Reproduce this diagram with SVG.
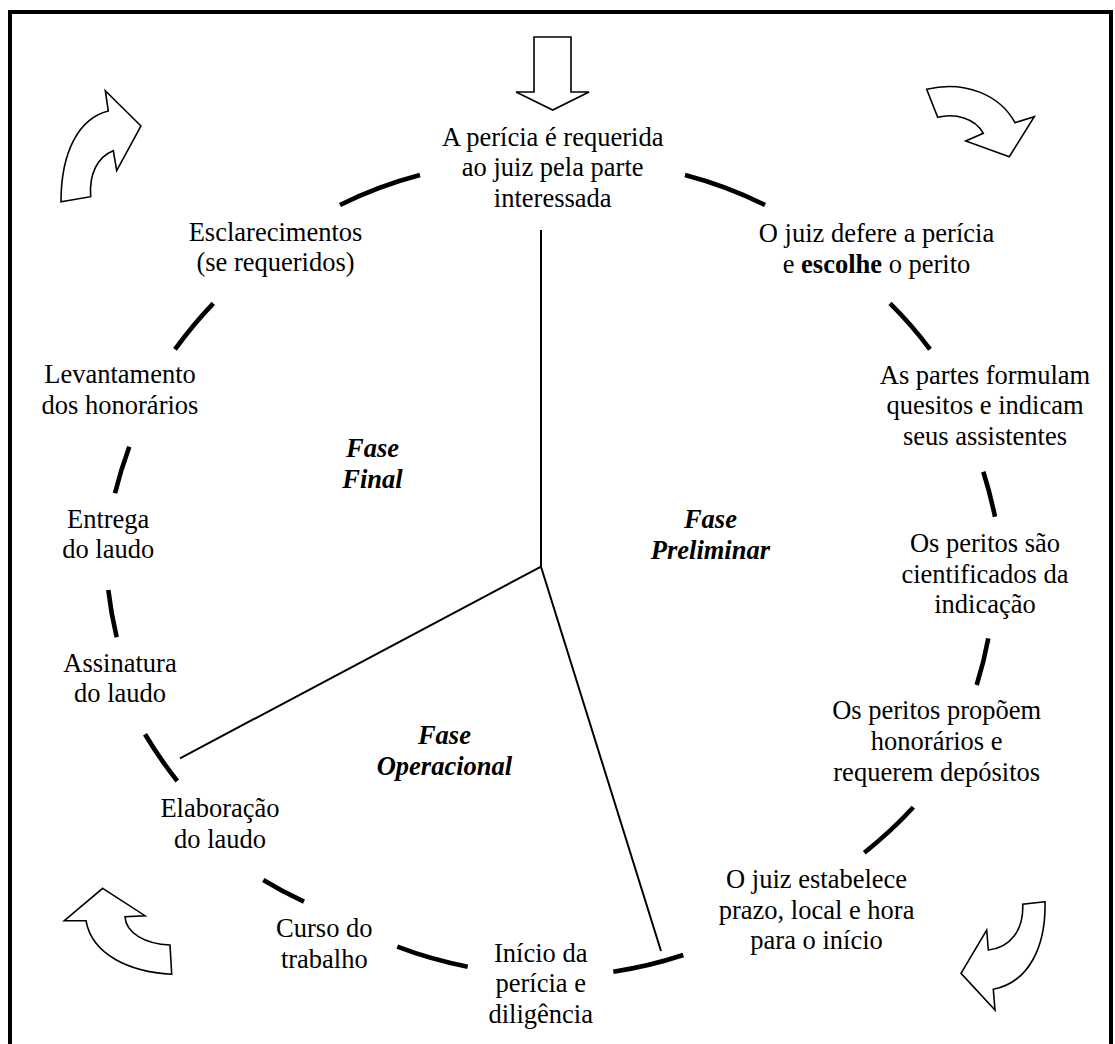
<svg xmlns="http://www.w3.org/2000/svg" width="1115" height="1044" viewBox="0 0 1115 1044">
<style>
  text { font-family: "Liberation Serif", "Times New Roman", "DejaVu Serif", serif; font-size: 26.5px; fill: #000; text-anchor: middle; }
  .phase { font-weight: bold; font-style: italic; }
  .arc { fill: none; stroke: #000; stroke-width: 4.6; }
  .spoke { fill: none; stroke: #000; stroke-width: 2; }
  .blk { fill: #fff; stroke: #000; stroke-width: 1.6; stroke-linejoin: miter; }
  .frame { fill: none; stroke: #000; stroke-width: 4; }
</style>
<rect width="1115" height="1044" fill="#fff"/>
<g id="frame">
  <path class="frame" d="M10,1044 V12 H1111 V1044"/>
</g>

<g id="connectors">
  <path class="arc" d="M340,205 Q378,186 420,175"/>
  <path class="arc" d="M685,175 Q727,186 765,205"/>
  <path class="arc" d="M890,303.3 Q912,325 930,349.3"/>
  <path class="arc" d="M983.3,471.7 Q990.3,493.8 995,516.7"/>
  <path class="arc" d="M988.3,638.3 Q983.9,662 976.7,685"/>
  <path class="arc" d="M913.3,807.3 Q891,831.6 864.3,852.7"/>
  <path class="arc" d="M683.3,955 Q649,966.3 613.3,971.7"/>
  <path class="arc" d="M467.7,966.7 Q431.6,959.8 397.3,946.7"/>
  <path class="arc" d="M304,901.7 Q282.9,891.9 263.3,880"/>
  <path class="arc" d="M177.3,781 Q159.5,758.5 145,734.3"/>
  <path class="arc" d="M116.7,637.3 Q111.1,613.8 108.3,590"/>
  <path class="arc" d="M115,493.3 Q120.8,469.7 129.3,446.7"/>
  <path class="arc" d="M175,349.3 Q192.5,325.1 213.3,303.3"/>
  <path class="spoke" d="M541,230 V566.7 L180,758.3 M541,566.7 L661,951"/>
</g>

<g id="arrow-top">
  <path class="blk" d="M534,37 H571 V92 H589 L552.7,110 L516,92 H534 Z"/>
</g>
<g id="arrow-top-right">
  <path class="blk" d="M926.7,89.3 C965,80 1000,95 1015,122.7 L1034.3,116.7 L1009.3,156.7 L965.7,141 L983.3,133.3 C975,118 955,113 937.7,117.3 Z"/>
</g>
<g id="arrow-bottom-right">
  <path class="blk" d="M1045,901.7 L1022.7,904.3 C1024,930 1010,948 988.3,950 L986.7,930 L961,973.3 L995,1010 L993.3,989.3 C1030,982 1046,945 1045,901.7 Z"/>
</g>
<g id="arrow-bottom-left">
  <path class="blk" d="M102.7,888.3 L145,915.7 L125,916.7 C126,933 145,944 170,945 L171.7,974.3 C130,972 92,955 86,920.7 L64.3,920.7 Z"/>
</g>
<g id="arrow-top-left">
  <path class="blk" d="M141,126 L105.3,90.7 L108.3,111 C80,118 61,150 61,201.7 L90.7,196.7 C89,175 97,157 113.3,150.7 L116.7,170.7 Z"/>
</g>

<g id="node-requerida">
  <text x="552.7" y="145.7">A perícia é requerida</text>
  <text x="552.7" y="176.2">ao juiz pela parte</text>
  <text x="552.7" y="206.7">interessada</text>
</g>
<g id="node-defere">
  <text x="876.5" y="242.3">O juiz defere a perícia</text>
  <text x="876.5" y="272.8">e <tspan font-weight="bold">escolhe</tspan> o perito</text>
</g>
<g id="node-quesitos">
  <text x="985" y="383.5">As partes formulam</text>
  <text x="985" y="414">quesitos e indicam</text>
  <text x="985" y="444.5">seus assistentes</text>
</g>
<g id="node-cientificados">
  <text x="985" y="552">Os peritos são</text>
  <text x="985" y="582.5">cientificados da</text>
  <text x="985" y="613">indicação</text>
</g>
<g id="node-honorarios">
  <text x="936.7" y="719">Os peritos propõem</text>
  <text x="936.7" y="750">honorários e</text>
  <text x="936.7" y="781">requerem depósitos</text>
</g>
<g id="node-prazo">
  <text x="816.6" y="888.3">O juiz estabelece</text>
  <text x="816.6" y="918.8">prazo, local e hora</text>
  <text x="816.6" y="949.3">para o início</text>
</g>
<g id="node-inicio">
  <text x="540.7" y="961.5">Início da</text>
  <text x="540.7" y="992">perícia e</text>
  <text x="540.7" y="1022.5">diligência</text>
</g>
<g id="node-curso">
  <text x="324.3" y="937">Curso do</text>
  <text x="324.3" y="967.5">trabalho</text>
</g>
<g id="node-elaboracao">
  <text x="220" y="817">Elaboração</text>
  <text x="220" y="847.5">do laudo</text>
</g>
<g id="node-assinatura">
  <text x="120" y="671.7">Assinatura</text>
  <text x="120" y="702.2">do laudo</text>
</g>
<g id="node-entrega">
  <text x="108.2" y="527.7">Entrega</text>
  <text x="108.2" y="558.2">do laudo</text>
</g>
<g id="node-levantamento">
  <text x="120" y="383">Levantamento</text>
  <text x="120" y="413.5">dos honorários</text>
</g>
<g id="node-esclarecimentos">
  <text x="275.5" y="240.7">Esclarecimentos</text>
  <text x="275.5" y="271.2">(se requeridos)</text>
</g>

<g id="phase-final">
  <text class="phase" x="372.5" y="457">Fase</text>
  <text class="phase" x="372.5" y="488">Final</text>
</g>
<g id="phase-preliminar">
  <text class="phase" x="710.4" y="528">Fase</text>
  <text class="phase" x="710.4" y="559">Preliminar</text>
</g>
<g id="phase-operacional">
  <text class="phase" x="444.4" y="744">Fase</text>
  <text class="phase" x="444.4" y="775">Operacional</text>
</g>
</svg>
